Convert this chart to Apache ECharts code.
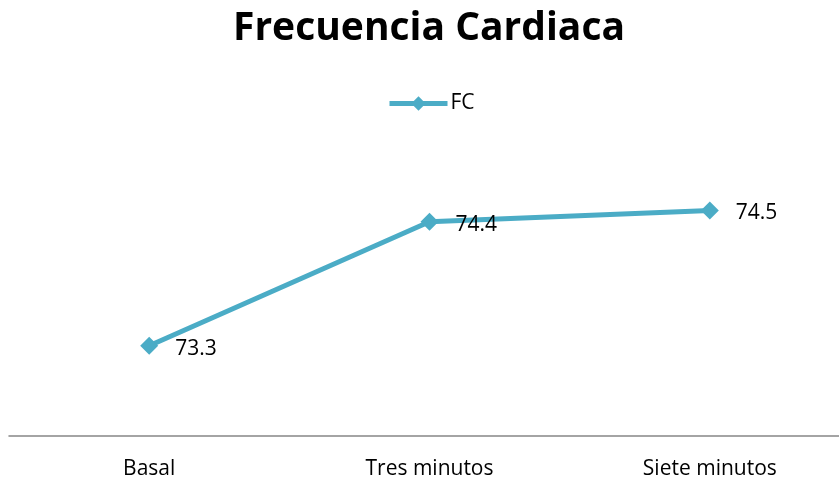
<!DOCTYPE html>
<html lang="es">
<head>
    <meta charset="UTF-8">
    <title>Frecuencia Cardiaca</title>
    <script src="https://cdn.jsdelivr.net/npm/echarts@6/dist/echarts.min.js"></script>
    <style>
        html, body, #chart {
            width: 839px;
            height: 482px;
            padding: 0;
            margin: 0;
            background: #fff;
        }
    </style>
</head>
<body>
<div id="chart"></div>
<script>
    var categories = ["Basal", "Tres minutos", "Siete minutos"];
    var fcValues = [73.3, 74.4, 74.5];

    var font = "'Open Sans', 'Noto Sans', sans-serif";
    var teal = "#4BACC6";
    var chart = echarts.init(document.getElementById("chart"));

    chart.setOption({
        title: {
            text: "Frecuencia Cardiaca",
            left: 228,
            top: 4,
            textStyle: {
                fontFamily: font,
                fontSize: 39,
                fontWeight: "bold",
                color: "#000"
            }
        },
        legend: {
            data: ["FC"],
            top: 88,
            left: 382,
            itemWidth: 58,
            itemHeight: 18,
            itemGap: 4,
            lineStyle: {width: 5},
            textStyle: {
                fontFamily: font,
                fontSize: 21,
                color: "#000",
                padding: [0, 0, 0, -2]
            }
        },
        grid: {
            left: 9,
            right: -11,
            top: 154,
            bottom: 46,
            outerBoundsMode: "none"
        },
        xAxis: {
            type: "category",
            data: categories,
            axisLine: {lineStyle: {color: "#868686", width: 1.5}},
            axisTick: {show: false},
            axisLabel: {
                fontFamily: font,
                fontSize: 21,
                color: "#000",
                margin: 23
            }
        },
        yAxis: {
            type: "value",
            min: 72.5,
            max: 75,
            show: false,
            splitLine: {show: false}
        },
        series: [{
            name: "FC",
            type: "line",
            data: fcValues,
            symbol: "diamond",
            symbolSize: 18,
            itemStyle: {color: teal},
            lineStyle: {color: teal, width: 5},
            label: {
                show: true,
                position: "right",
                distance: 17,
                offset: [0, 3],
                fontFamily: font,
                fontSize: 21,
                color: "#000"
            }
        }]
    });
</script>
</body>
</html>
